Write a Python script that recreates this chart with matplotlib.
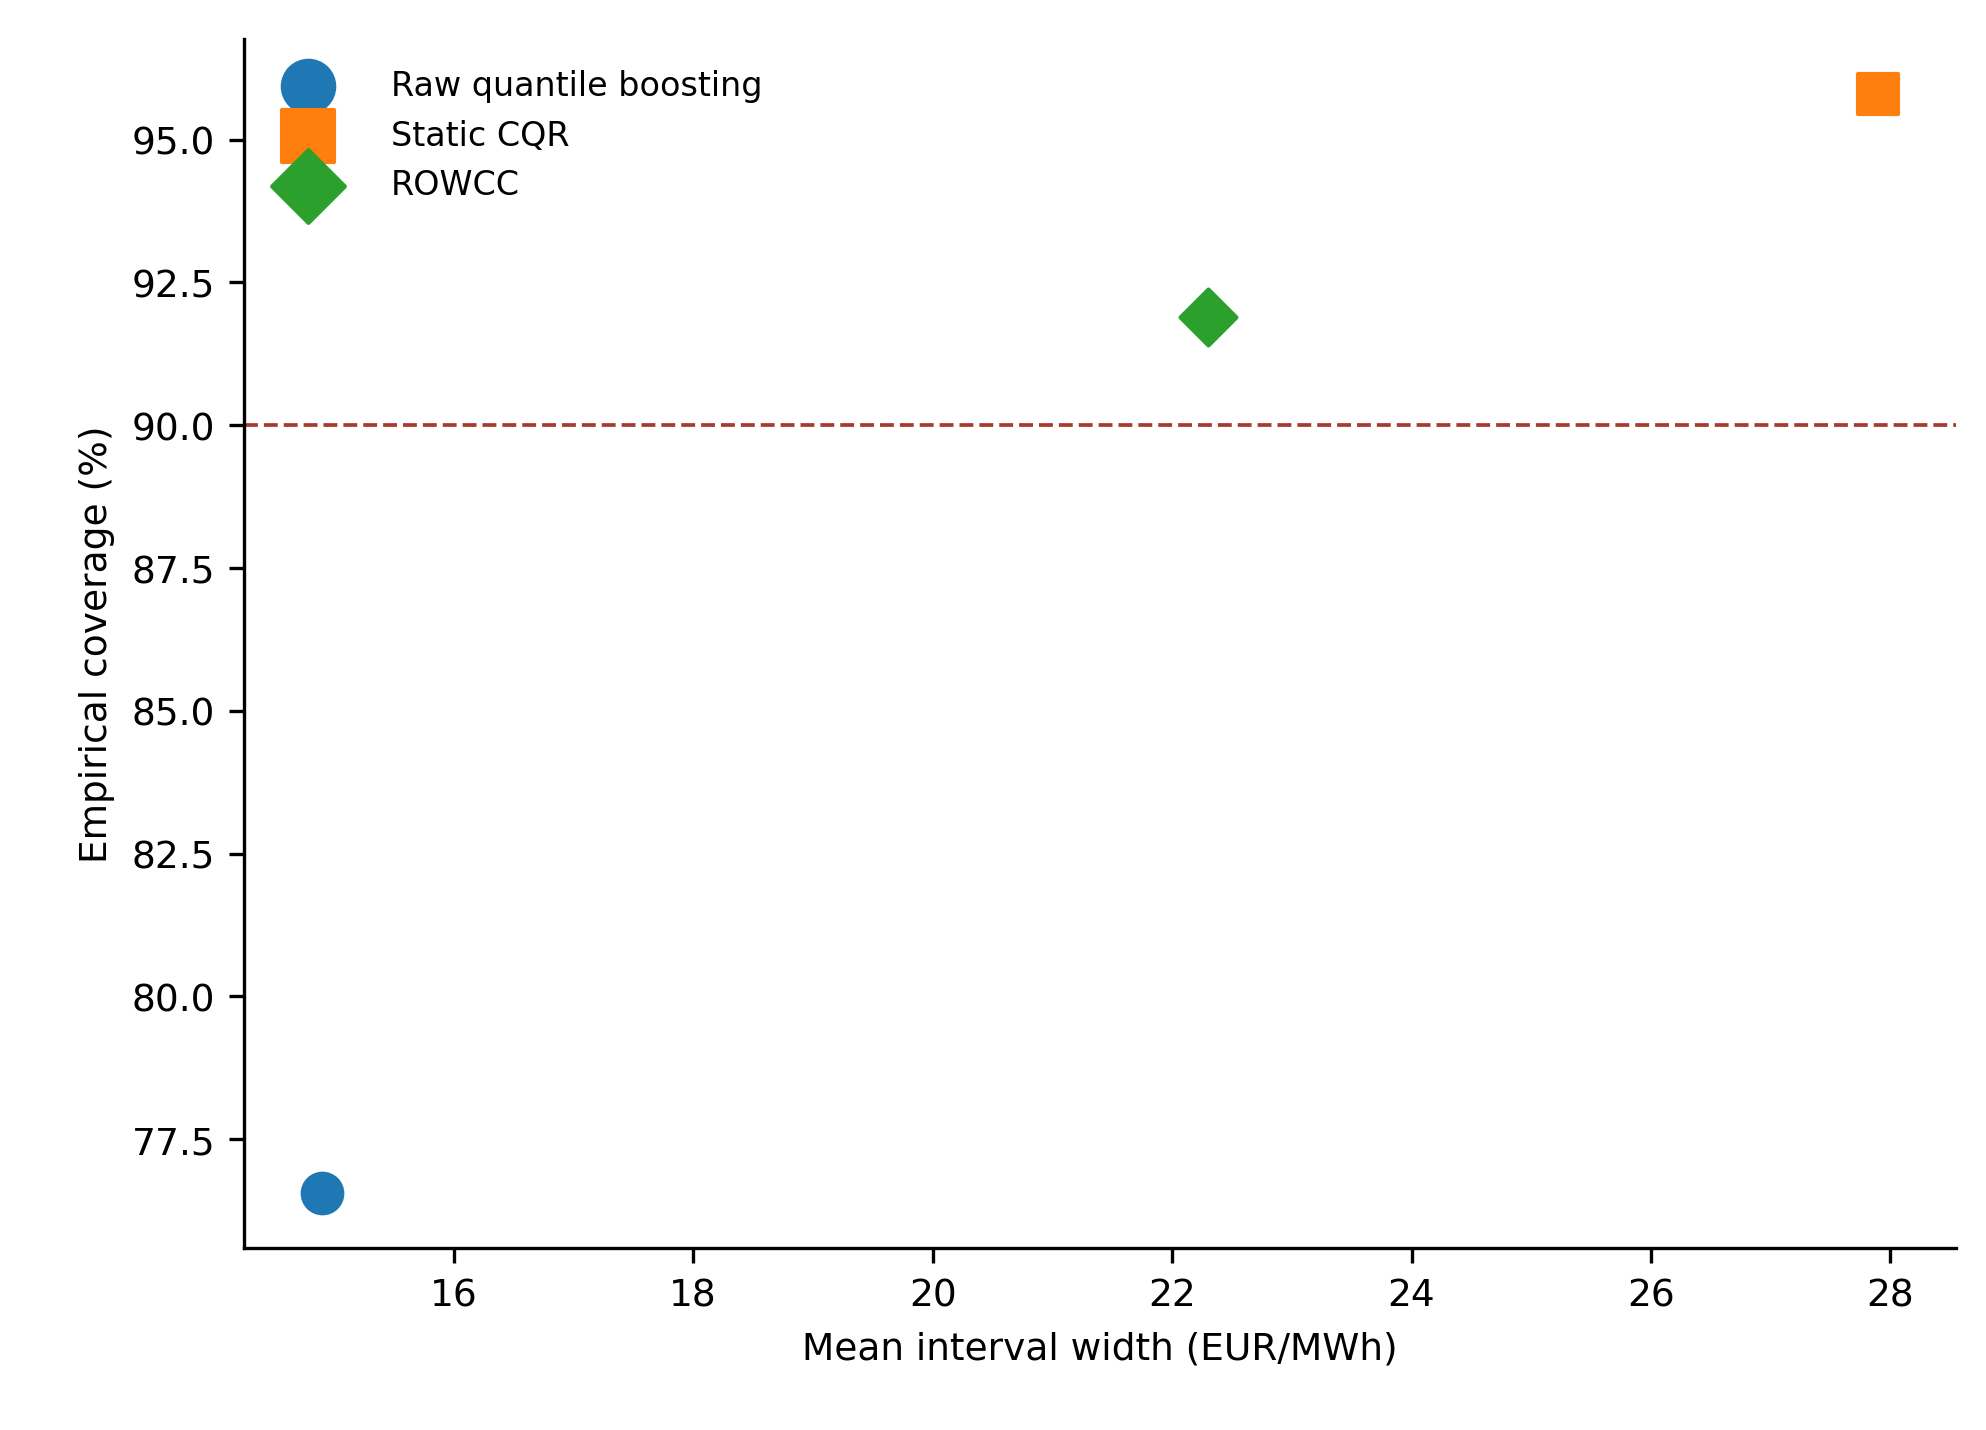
import matplotlib.pyplot as plt

methods = ["Raw quantile boosting", "Static CQR", "ROWCC"]
widths = [14.9, 27.9, 22.3]
coverage = [76.55, 95.8, 91.9]
markers = ["o", "s", "D"]
colors = ["#1f77b4", "#ff7f0e", "#2ca02c"]
target = 90.0

fig, ax = plt.subplots(figsize=(6.62, 4.77), dpi=300)
for m, w, c, mk, col in zip(methods, widths, coverage, markers, colors):
    ax.scatter(w, c, marker=mk, s=90, color=col, label=m)
ax.axhline(target, color="#a83a32", ls="--", lw=0.9)

ax.set_xlabel("Mean interval width (EUR/MWh)", fontsize=9)
ax.set_ylabel("Empirical coverage (%)", fontsize=9)
ax.tick_params(labelsize=9)
ax.set_yticks([77.5, 80.0, 82.5, 85.0, 87.5, 90.0, 92.5, 95.0])
ax.set_xticks([16, 18, 20, 22, 24, 26, 28])
ax.spines["top"].set_visible(False)
ax.spines["right"].set_visible(False)
ax.legend(frameon=False, fontsize=8, loc="upper left", markerscale=1.3,
          handletextpad=1.5)
fig.subplots_adjust(left=0.123, right=0.985, top=0.972, bottom=0.127)
fig.savefig("out.png", dpi=300)
